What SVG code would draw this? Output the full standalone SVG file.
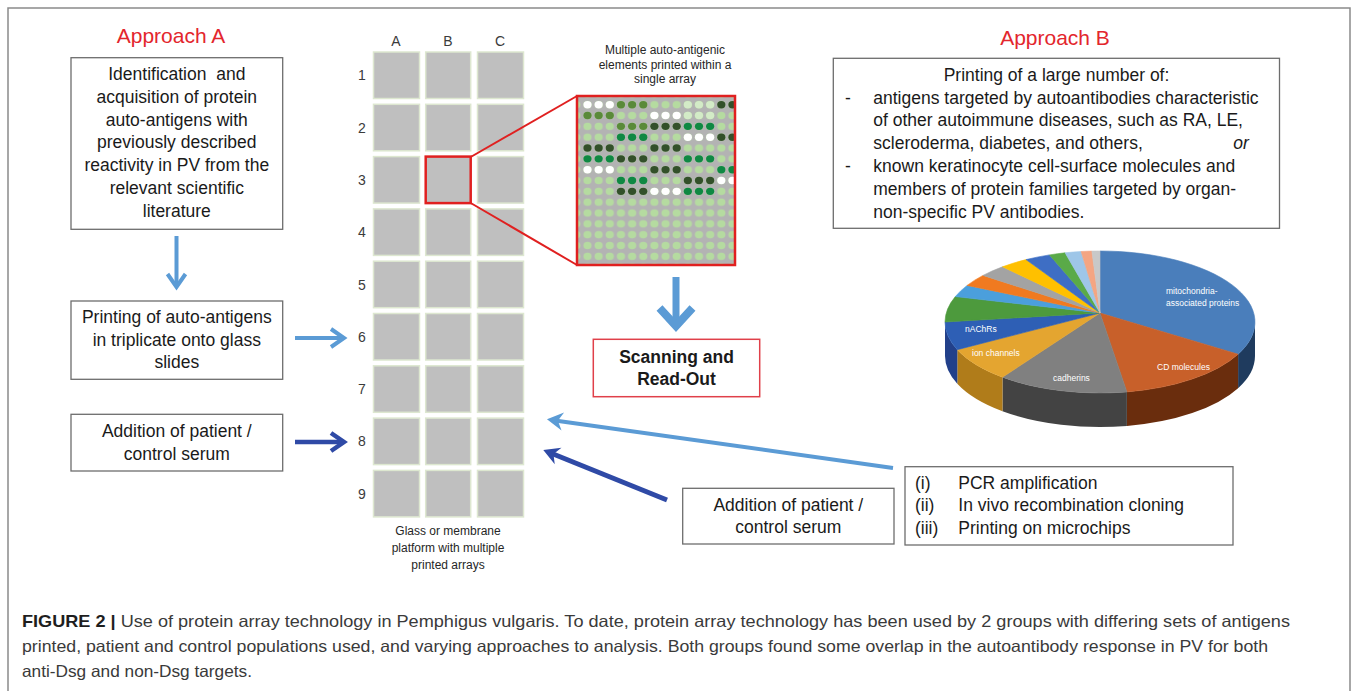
<svg xmlns="http://www.w3.org/2000/svg" width="1358" height="691" viewBox="0 0 1358 691">
<style>
.t{font-family:"Liberation Sans",Arial,sans-serif;font-size:17.5px;fill:#1a1a1a}
.c{text-anchor:middle}
.box{fill:#fff;stroke:#6d6d6d;stroke-width:1.3}
.title{font-family:"Liberation Sans",Arial,sans-serif;font-size:21px;fill:#e3262d;text-anchor:middle}
.cell{fill:#bfbfbf;stroke:#dde7d0;stroke-width:1.5}
.lab{font-family:"Liberation Sans",Arial,sans-serif;font-size:14px;fill:#3b3b3b;text-anchor:middle}
.sm{font-family:"Liberation Sans",Arial,sans-serif;font-size:12px;fill:#262626;text-anchor:middle}
.pl{font-family:"Liberation Sans",Arial,sans-serif;font-size:8.5px;fill:#fff}
.cap{font-family:"Liberation Sans Narrow","Liberation Sans",Arial,sans-serif;font-size:16.5px;fill:#3a3a3a}
.W{fill:#fff}.M{fill:#5a8a3a}.D{fill:#33502a}.B{fill:#0f8843}.V{fill:#d3ebc7}
.lb{stroke:#5b9bd5;fill:none}
.db{stroke:#2f4aa6;fill:none}
</style>
<defs>
<marker id="chevL" viewBox="-16 -12 20 24" refX="0" refY="0" markerWidth="20" markerHeight="24" markerUnits="userSpaceOnUse" orient="auto" overflow="visible"><path d="M-13,-9 L0,0 L-13,9" fill="none" stroke="#5b9bd5" stroke-width="4"/></marker>
<marker id="chevD" viewBox="-16 -12 20 24" refX="0" refY="0" markerWidth="20" markerHeight="24" markerUnits="userSpaceOnUse" orient="auto" overflow="visible"><path d="M-13,-9 L0,0 L-13,9" fill="none" stroke="#2f4aa6" stroke-width="4.5"/></marker>
<marker id="stL" viewBox="-18 -12 20 24" refX="-8" refY="0" markerWidth="20" markerHeight="24" markerUnits="userSpaceOnUse" orient="auto" overflow="visible"><path d="M0,0 L-16,-9 L-11,0 L-16,9 Z" fill="#5b9bd5"/></marker>
<marker id="stD" viewBox="-18 -12 20 24" refX="-8" refY="0" markerWidth="20" markerHeight="24" markerUnits="userSpaceOnUse" orient="auto" overflow="visible"><path d="M0,0 L-16,-9 L-11,0 L-16,9 Z" fill="#2f4aa6"/></marker>
<pattern id="ldots" patternUnits="userSpaceOnUse" x="581.925" y="99.3" width="11.15" height="10.83"><ellipse cx="5.575" cy="5.415" rx="4.1" ry="3.7" fill="#b5dba0"/></pattern>
<ellipse id="dot" rx="4.1" ry="3.7"/>
<clipPath id="boxclip"><rect x="578" y="97" width="156" height="167"/></clipPath>
</defs>

<path d="M8,691 V8 H1350 V691" fill="none" stroke="#8a8a8a" stroke-width="1.5"/>

<text class="title" x="171" y="43">Approach A</text>
<text class="title" x="1055" y="44.5">Approach B</text>

<g id="nodeA1">
<rect class="box" x="71" y="57.7" width="211.7" height="171.6"/>
<text class="t c" x="176.8" y="80" xml:space="preserve" style="white-space:pre">Identification  and</text>
<text class="t c" x="176.8" y="102.8">acquisition of protein</text>
<text class="t c" x="176.8" y="125.6">auto-antigens with</text>
<text class="t c" x="176.8" y="148.4">previously described</text>
<text class="t c" x="176.8" y="171.2">reactivity in PV from the</text>
<text class="t c" x="176.8" y="194">relevant scientific</text>
<text class="t c" x="176.8" y="216.8">literature</text>
</g>

<g id="nodeA2">
<rect class="box" x="71" y="301" width="211.7" height="78.3"/>
<text class="t c" x="176.8" y="322.7">Printing of auto-antigens</text>
<text class="t c" x="176.8" y="345.5">in triplicate onto glass</text>
<text class="t c" x="176.8" y="368.3">slides</text>
</g>

<g id="nodeA3">
<rect class="box" x="71" y="414.3" width="211.7" height="56.7"/>
<text class="t c" x="176.8" y="437.3">Addition of patient /</text>
<text class="t c" x="176.8" y="460">control serum</text>
</g>

<g id="grid">
<text class="lab" x="396" y="46">A</text>
<text class="lab" x="448" y="46">B</text>
<text class="lab" x="500" y="46">C</text>
<text class="lab" x="362" y="80.3">1</text>
<text class="lab" x="362" y="132.6">2</text>
<text class="lab" x="362" y="184.9">3</text>
<text class="lab" x="362" y="237.2">4</text>
<text class="lab" x="362" y="289.5">5</text>
<text class="lab" x="362" y="341.8">6</text>
<text class="lab" x="362" y="394.1">7</text>
<text class="lab" x="362" y="446.4">8</text>
<text class="lab" x="362" y="498.7">9</text>
<g>
<rect class="cell" x="373.5" y="52" width="46" height="46.5"/><rect class="cell" x="425.7" y="52" width="45" height="46.5"/><rect class="cell" x="477.5" y="52" width="46" height="46.5"/>
<rect class="cell" x="373.5" y="104.3" width="46" height="46.5"/><rect class="cell" x="425.7" y="104.3" width="45" height="46.5"/><rect class="cell" x="477.5" y="104.3" width="46" height="46.5"/>
<rect class="cell" x="373.5" y="156.6" width="46" height="46.5"/><rect class="cell" x="425.7" y="156.6" width="45" height="46.5"/><rect class="cell" x="477.5" y="156.6" width="46" height="46.5"/>
<rect class="cell" x="373.5" y="208.9" width="46" height="46.5"/><rect class="cell" x="425.7" y="208.9" width="45" height="46.5"/><rect class="cell" x="477.5" y="208.9" width="46" height="46.5"/>
<rect class="cell" x="373.5" y="261.2" width="46" height="46.5"/><rect class="cell" x="425.7" y="261.2" width="45" height="46.5"/><rect class="cell" x="477.5" y="261.2" width="46" height="46.5"/>
<rect class="cell" x="373.5" y="313.5" width="46" height="46.5"/><rect class="cell" x="425.7" y="313.5" width="45" height="46.5"/><rect class="cell" x="477.5" y="313.5" width="46" height="46.5"/>
<rect class="cell" x="373.5" y="365.8" width="46" height="46.5"/><rect class="cell" x="425.7" y="365.8" width="45" height="46.5"/><rect class="cell" x="477.5" y="365.8" width="46" height="46.5"/>
<rect class="cell" x="373.5" y="418.1" width="46" height="46.5"/><rect class="cell" x="425.7" y="418.1" width="45" height="46.5"/><rect class="cell" x="477.5" y="418.1" width="46" height="46.5"/>
<rect class="cell" x="373.5" y="470.4" width="46" height="46.5"/><rect class="cell" x="425.7" y="470.4" width="45" height="46.5"/><rect class="cell" x="477.5" y="470.4" width="46" height="46.5"/>
</g>
<rect x="425.7" y="156.6" width="45" height="46.5" fill="none" stroke="#e02020" stroke-width="2.5"/>
<text class="sm" x="448" y="535">Glass or membrane</text>
<text class="sm" x="448" y="552">platform with multiple</text>
<text class="sm" x="448" y="569">printed arrays</text>
</g>

<g id="array">
<text class="sm" x="665" y="54">Multiple auto-antigenic</text>
<text class="sm" x="665" y="68.7">elements printed within a</text>
<text class="sm" x="665" y="83.4">single array</text>
<rect x="577" y="96" width="158" height="169" fill="#b3b3b3"/>
<g clip-path="url(#boxclip)">
<rect x="577" y="96" width="158" height="169" fill="url(#ldots)"/>
<use href="#dot" class="W" x="587.5" y="104.7"/><use href="#dot" class="W" x="598.65" y="104.7"/><use href="#dot" class="W" x="609.8" y="104.7"/>
<use href="#dot" class="M" x="620.95" y="104.7"/><use href="#dot" class="M" x="632.1" y="104.7"/><use href="#dot" class="M" x="643.25" y="104.7"/>
<use href="#dot" class="V" x="687.85" y="104.7"/><use href="#dot" class="V" x="699" y="104.7"/><use href="#dot" class="V" x="710.15" y="104.7"/>
<use href="#dot" class="D" x="721.3" y="104.7"/><use href="#dot" class="D" x="732.45" y="104.7"/>
<use href="#dot" class="M" x="587.5" y="115.53"/><use href="#dot" class="M" x="598.65" y="115.53"/><use href="#dot" class="M" x="609.8" y="115.53"/>
<use href="#dot" class="W" x="654.4" y="115.53"/><use href="#dot" class="W" x="665.55" y="115.53"/><use href="#dot" class="W" x="676.7" y="115.53"/>
<use href="#dot" class="V" x="687.85" y="115.53"/><use href="#dot" class="V" x="699" y="115.53"/><use href="#dot" class="V" x="710.15" y="115.53"/>
<use href="#dot" class="M" x="620.95" y="126.36"/><use href="#dot" class="M" x="632.1" y="126.36"/><use href="#dot" class="M" x="643.25" y="126.36"/>
<use href="#dot" class="D" x="654.4" y="126.36"/><use href="#dot" class="D" x="665.55" y="126.36"/><use href="#dot" class="D" x="676.7" y="126.36"/>
<use href="#dot" class="B" x="687.85" y="126.36"/><use href="#dot" class="B" x="699" y="126.36"/><use href="#dot" class="B" x="710.15" y="126.36"/>
<use href="#dot" class="B" x="620.95" y="137.19"/><use href="#dot" class="B" x="632.1" y="137.19"/><use href="#dot" class="B" x="643.25" y="137.19"/>
<use href="#dot" class="W" x="687.85" y="137.19"/><use href="#dot" class="W" x="699" y="137.19"/><use href="#dot" class="W" x="710.15" y="137.19"/>
<use href="#dot" class="D" x="721.3" y="137.19"/><use href="#dot" class="D" x="732.45" y="137.19"/>
<use href="#dot" class="D" x="587.5" y="148.02"/><use href="#dot" class="D" x="598.65" y="148.02"/><use href="#dot" class="D" x="609.8" y="148.02"/>
<use href="#dot" class="D" x="654.4" y="148.02"/><use href="#dot" class="D" x="665.55" y="148.02"/><use href="#dot" class="D" x="676.7" y="148.02"/>
<use href="#dot" class="B" x="587.5" y="158.85"/><use href="#dot" class="B" x="598.65" y="158.85"/><use href="#dot" class="B" x="609.8" y="158.85"/>
<use href="#dot" class="D" x="620.95" y="158.85"/><use href="#dot" class="D" x="632.1" y="158.85"/><use href="#dot" class="D" x="643.25" y="158.85"/>
<use href="#dot" class="B" x="687.85" y="158.85"/><use href="#dot" class="B" x="699" y="158.85"/><use href="#dot" class="B" x="710.15" y="158.85"/>
<use href="#dot" class="W" x="587.5" y="169.68"/><use href="#dot" class="W" x="598.65" y="169.68"/><use href="#dot" class="W" x="609.8" y="169.68"/>
<use href="#dot" class="D" x="654.4" y="169.68"/><use href="#dot" class="D" x="665.55" y="169.68"/><use href="#dot" class="D" x="676.7" y="169.68"/>
<use href="#dot" class="B" x="721.3" y="169.68"/><use href="#dot" class="B" x="732.45" y="169.68"/>
<use href="#dot" class="B" x="620.95" y="180.51"/><use href="#dot" class="B" x="632.1" y="180.51"/><use href="#dot" class="B" x="643.25" y="180.51"/>
<use href="#dot" class="D" x="687.85" y="180.51"/><use href="#dot" class="D" x="699" y="180.51"/><use href="#dot" class="D" x="710.15" y="180.51"/>
<use href="#dot" class="W" x="721.3" y="180.51"/><use href="#dot" class="W" x="732.45" y="180.51"/>
<use href="#dot" class="D" x="620.95" y="191.34"/><use href="#dot" class="D" x="632.1" y="191.34"/><use href="#dot" class="D" x="643.25" y="191.34"/>
<use href="#dot" class="W" x="654.4" y="191.34"/><use href="#dot" class="W" x="665.55" y="191.34"/><use href="#dot" class="W" x="676.7" y="191.34"/>
<use href="#dot" class="B" x="687.85" y="191.34"/><use href="#dot" class="B" x="699" y="191.34"/><use href="#dot" class="B" x="710.15" y="191.34"/>
</g>
<rect x="577" y="96" width="158" height="169" fill="none" stroke="#e02020" stroke-width="2.5"/>
</g>

<g id="nodeScan">
<rect x="593.3" y="339.3" width="166.4" height="57.4" fill="#fff" stroke="#e0404a" stroke-width="1.5"/>
<text class="t c" x="676.5" y="362.7" font-weight="bold" font-size="16px">Scanning and</text>
<text class="t c" x="676.5" y="385.3" font-weight="bold" font-size="16px">Read-Out</text>
</g>

<g id="nodeB1">
<rect class="box" x="833.3" y="58.3" width="446.2" height="170"/>
<text class="t c" x="1056.5" y="81">Printing of a large number of:</text>
<text class="t" x="845" y="103.5">-</text>
<text class="t" x="873.3" y="103.5">antigens targeted by autoantibodies characteristic</text>
<text class="t" x="873.3" y="126.3">of other autoimmune diseases, such as RA, LE,</text>
<text class="t" x="873.3" y="149.1">scleroderma, diabetes, and others,</text>
<text class="t" x="1233.3" y="149.1" font-style="italic">or</text>
<text class="t" x="845" y="171.9">-</text>
<text class="t" x="873.3" y="171.9">known keratinocyte cell-surface molecules and</text>
<text class="t" x="873.3" y="194.7">members of protein families targeted by organ-</text>
<text class="t" x="873.3" y="217.5">non-specific PV antibodies.</text>
</g>

<g id="pie">
<path d="M1255,322 A155,71 0 0 1 1238.1,354.2 L1238.1,388.2 A155,71 0 0 0 1255,356 Z" fill="#1f3b5e"/>
<path d="M1238.1,354.2 A155,71 0 0 1 1126.9,391.9 L1126.9,425.9 A155,71 0 0 0 1238.1,388.2 Z" fill="#6a2d0d"/>
<path d="M1126.9,391.9 A155,71 0 0 1 1002.5,377.2 L1002.5,411.2 A155,71 0 0 0 1126.9,425.9 Z" fill="#434343"/>
<path d="M1002.5,377.2 A155,71 0 0 1 957.3,349.7 L957.3,383.7 A155,71 0 0 0 1002.5,411.2 Z" fill="#b07c1a"/>
<path d="M957.3,349.7 A155,71 0 0 1 945,322 L945,356 A155,71 0 0 0 957.3,383.7 Z" fill="#22408a"/>
<g stroke-width="0.6" stroke-linejoin="round">
<path d="M1100,313 L1100,251 A155,71 0 0 1 1238.1,354.2 Z" fill="#4a7ebb" stroke="#4a7ebb"/>
<path d="M1100,313 L1238.1,354.2 A155,71 0 0 1 1126.9,391.9 Z" fill="#c8602a" stroke="#c8602a"/>
<path d="M1100,313 L1126.9,391.9 A155,71 0 0 1 1002.5,377.2 Z" fill="#808080" stroke="#808080"/>
<path d="M1100,313 L1002.5,377.2 A155,71 0 0 1 957.3,349.7 Z" fill="#e4a530" stroke="#e4a530"/>
<path d="M1100,313 L957.3,349.7 A155,71 0 0 1 945,322 Z" fill="#2e5fb5" stroke="#2e5fb5"/>
<path d="M1100,313 L945,322 A155,71 0 0 1 955.3,296.6 Z" fill="#4d9a3d" stroke="#4d9a3d"/>
<path d="M1100,313 L955.3,296.6 A155,71 0 0 1 967.1,285.4 Z" fill="#4b9fdc" stroke="#4b9fdc"/>
<path d="M1100,313 L967.1,285.4 A155,71 0 0 1 983,275.4 Z" fill="#f07a20" stroke="#f07a20"/>
<path d="M1100,313 L983,275.4 A155,71 0 0 1 1002.5,266.8 Z" fill="#a3a3a3" stroke="#a3a3a3"/>
<path d="M1100,313 L1002.5,266.8 A155,71 0 0 1 1026,259.6 Z" fill="#ffc000" stroke="#ffc000"/>
<path d="M1100,313 L1026,259.6 A155,71 0 0 1 1049.5,254.9 Z" fill="#3e6ec4" stroke="#3e6ec4"/>
<path d="M1100,313 L1049.5,254.9 A155,71 0 0 1 1065.1,252.8 Z" fill="#5aaa48" stroke="#5aaa48"/>
<path d="M1100,313 L1065.1,252.8 A155,71 0 0 1 1081.1,251.5 Z" fill="#9ec6e8" stroke="#9ec6e8"/>
<path d="M1100,313 L1081.1,251.5 A155,71 0 0 1 1091.9,251.1 Z" fill="#f4a582" stroke="#f4a582"/>
<path d="M1100,313 L1091.9,251.1 A155,71 0 0 1 1100,251 Z" fill="#c8c8c8" stroke="#c8c8c8"/>
</g>
<text class="pl" x="1166" y="294">mitochondria-</text>
<text class="pl" x="1166" y="305.5">associated proteins</text>
<text class="pl" x="1157" y="369.5">CD molecules</text>
<text class="pl" x="1053" y="380.5">cadherins</text>
<text class="pl" x="972" y="355.5">ion channels</text>
<text class="pl" x="965" y="331.5">nAChRs</text>
</g>

<g id="nodeB3">
<rect class="box" x="682.7" y="488.3" width="211.3" height="55.7"/>
<text class="t c" x="788.3" y="510.5">Addition of patient /</text>
<text class="t c" x="788.3" y="533.3">control serum</text>
</g>

<g id="nodeB2">
<rect class="box" x="905" y="466.7" width="328" height="78.3"/>
<text class="t" x="915" y="488.5">(i)</text>
<text class="t" x="958.3" y="488.5">PCR amplification</text>
<text class="t" x="915" y="511.3">(ii)</text>
<text class="t" x="958.3" y="511.3">In vivo recombination cloning</text>
<text class="t" x="915" y="534.1">(iii)</text>
<text class="t" x="958.3" y="534.1">Printing on microchips</text>
</g>

<g id="connectors">
<line class="lb" x1="176.5" y1="236" x2="176.5" y2="287" stroke-width="4" marker-end="url(#chevL)"/>
<line class="lb" x1="295" y1="338" x2="344" y2="338" stroke-width="4" marker-end="url(#chevL)"/>
<line class="db" x1="295" y1="442" x2="344" y2="442" stroke-width="4.5" marker-end="url(#chevD)"/>
<line class="lb" x1="893" y1="468" x2="554.9" y2="420.4" stroke-width="4" marker-end="url(#stL)"/>
<line class="db" x1="667" y1="500" x2="550.7" y2="453" stroke-width="5" marker-end="url(#stD)"/>
<line class="lb" x1="676" y1="277" x2="676" y2="322" stroke-width="7"/>
<path class="lb" d="M659.5,308 L676,326 L692.5,308" stroke-width="8"/>
<line x1="470.7" y1="157" x2="577" y2="96" stroke="#e02020" stroke-width="2"/>
<line x1="470.7" y1="203" x2="577" y2="265" stroke="#e02020" stroke-width="2"/>
</g>

<g id="caption">
<text class="cap" x="22" y="627" textLength="1268" lengthAdjust="spacingAndGlyphs"><tspan font-weight="bold" fill="#1e1e1e">FIGURE 2 |</tspan> Use of protein array technology in Pemphigus vulgaris. To date, protein array technology has been used by 2 groups with differing sets of antigens</text>
<text class="cap" x="22" y="652" textLength="1246" lengthAdjust="spacingAndGlyphs">printed, patient and control populations used, and varying approaches to analysis. Both groups found some overlap in the autoantibody response in PV for both</text>
<text class="cap" x="22" y="677" textLength="230" lengthAdjust="spacingAndGlyphs">anti-Dsg and non-Dsg targets.</text>
</g>
</svg>
